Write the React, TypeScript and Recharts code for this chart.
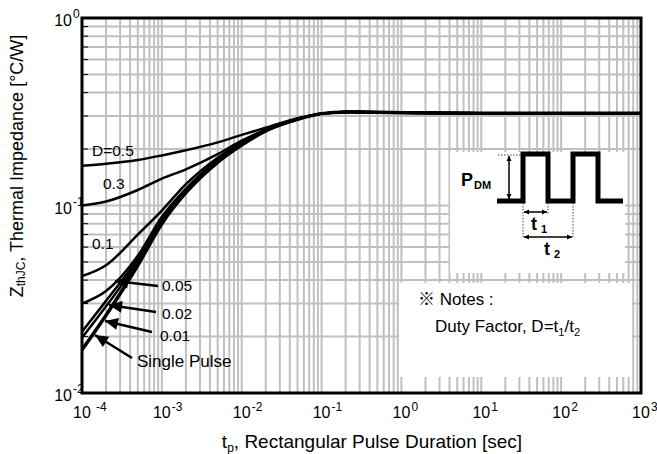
import React from "react";
import { LineChart, Line, XAxis, YAxis, CartesianGrid } from "recharts";

const FONT = "'Liberation Sans', Arial, Helvetica, sans-serif";

// pulse width t_p [s]
const pulseTimes = [1e-4, 2e-4, 5e-4, 1e-3, 2e-3, 5e-3, 1e-2, 2e-2, 5e-2, 1e-1, 2e-1, 5e-1, 1, 10, 100, 1000];

// Z_thJC [°C/W] per duty factor
const zD05 = [0.163, 0.167, 0.175, 0.185, 0.197, 0.217, 0.238, 0.26, 0.292, 0.309, 0.315, 0.314, 0.312, 0.31, 0.31, 0.31];
const zD03 = [0.1, 0.105, 0.121, 0.139, 0.156, 0.188, 0.222, 0.254, 0.29, 0.309, 0.315, 0.314, 0.312, 0.31, 0.31, 0.31];
const zD01 = [0.042, 0.048, 0.07, 0.094, 0.13, 0.18, 0.218, 0.252, 0.289, 0.309, 0.315, 0.314, 0.312, 0.31, 0.31, 0.31];
const zD005 = [0.03, 0.035, 0.054, 0.087, 0.123, 0.175, 0.214, 0.251, 0.288, 0.309, 0.315, 0.314, 0.312, 0.31, 0.31, 0.31];
const zD002 = [0.0212, 0.031, 0.052, 0.084, 0.12, 0.172, 0.212, 0.25, 0.288, 0.309, 0.315, 0.314, 0.312, 0.31, 0.31, 0.31];
const zD001 = [0.0197, 0.029, 0.05, 0.082, 0.118, 0.171, 0.211, 0.25, 0.288, 0.309, 0.315, 0.314, 0.312, 0.31, 0.31, 0.31];
const zSingle = [0.017, 0.026, 0.048, 0.08, 0.117, 0.17, 0.21, 0.25, 0.288, 0.309, 0.315, 0.314, 0.312, 0.31, 0.31, 0.31];

// axis decades + log grid multipliers
const xDecades = [1e-4, 1e-3, 1e-2, 1e-1, 1, 10, 100, 1000];
const xExponents = ["-4", "-3", "-2", "-1", "0", "1", "2", "3"];
const yDecades = [0.01, 0.1, 1];
const yExponents = ["-2", "-1", "0"];
const gridSteps = [1, 2, 3, 4, 5, 6, 7, 8, 9];

const logTicks = (decades: number[]) => {
  const out: number[] = [];
  decades.forEach((d, i) => {
    if (i === decades.length - 1) out.push(d);
    else gridSteps.forEach((m) => out.push(m * d));
  });
  return out;
};
const xTicks = logTicks(xDecades);
const yTicks = logTicks(yDecades);

const data = pulseTimes.map((t, i) => ({
  t,
  d05: zD05[i],
  d03: zD03[i],
  d01: zD01[i],
  d005: zD005[i],
  d002: zD002[i],
  d001: zD001[i],
  single: zSingle[i],
}));

const decadeIndex = (v: number, decades: number[]) =>
  decades.findIndex((d) => Math.abs(v / d - 1) < 1e-6);

function XTick(props: any) {
  const { x, y, payload } = props;
  const i = decadeIndex(payload.value, xDecades);
  if (i < 0) return null;
  return (
    <g fontFamily={FONT} fill="#000">
      <text x={x} y={y + 25} fontSize={16} textAnchor="middle">10</text>
      <text x={x + 9 + (i === 0 ? 5 : 1)} y={y + 18} fontSize={12}>{xExponents[i]}</text>
    </g>
  );
}

function YTick(props: any) {
  const { y, payload } = props;
  const i = decadeIndex(payload.value, yDecades);
  if (i < 0) return null;
  return (
    <g fontFamily={FONT} fill="#000">
      <text x={72} y={y + 8} fontSize={16} textAnchor="end">10</text>
      <text x={73} y={y} fontSize={12}>{yExponents[i]}</text>
    </g>
  );
}

function head(tx: number, ty: number, fx: number, fy: number, len: number, half: number) {
  const dx = tx - fx;
  const dy = ty - fy;
  const d = Math.hypot(dx, dy);
  const ux = dx / d;
  const uy = dy / d;
  const bx = tx - ux * len;
  const by = ty - uy * len;
  return `${tx},${ty} ${bx - uy * half},${by + ux * half} ${bx + uy * half},${by - ux * half}`;
}

function Callout({ tip, tail }: { tip: number[]; tail: number[] }) {
  return (
    <g>
      <line x1={tail[0]} y1={tail[1]} x2={tip[0]} y2={tip[1]} stroke="#000" strokeWidth={2.5} />
      <polygon points={head(tip[0], tip[1], tail[0], tail[1], 13, 6)} fill="#000" />
    </g>
  );
}

function DimArrow({ x1, y1, x2, y2 }: { x1: number; y1: number; x2: number; y2: number }) {
  return (
    <g>
      <line x1={x1} y1={y1} x2={x2} y2={y2} stroke="#000" strokeWidth={1.5} />
      <polygon points={head(x1, y1, x2, y2, 5, 2.5)} fill="#000" />
      <polygon points={head(x2, y2, x1, y1, 5, 2.5)} fill="#000" />
    </g>
  );
}

// annotation layer: frame, inset boxes, curve labels
function Annotations() {
  const dot = { stroke: "#444", strokeWidth: 1, strokeDasharray: "1.5 1.5" };
  return (
    <svg width={657} height={454} style={{ position: "absolute", left: 0, top: 0, pointerEvents: "none" }} fontFamily={FONT}>
      <rect x={450} y={152} width={175} height={121} fill="#fff" />
      <rect x={399} y={283} width={233} height={94} fill="#fff" />

      {/* pulse train */}
      <polyline
        points="497,201 523,201 523,154 548,154 548,201 573,201 573,154 598,154 598,201 623,201"
        fill="none"
        stroke="#000"
        strokeWidth={5}
      />
      <line x1={498} y1={155} x2={521} y2={155} {...dot} />
      <DimArrow x1={509} y1={156} x2={509} y2={199} />
      <text x={461} y={186} fontSize={18} fontWeight="bold">P</text>
      <text x={474} y={189} fontSize={11} fontWeight="bold">DM</text>
      <line x1={523} y1={203} x2={523} y2={238} {...dot} />
      <line x1={548} y1={203} x2={548} y2={214} {...dot} />
      <line x1={573} y1={203} x2={573} y2={238} {...dot} />
      <DimArrow x1={524} y1={212} x2={547} y2={212} />
      <DimArrow x1={524} y1={237} x2={572} y2={237} />
      <text x={531} y={230} fontSize={18} fontWeight="bold">t</text>
      <text x={541} y={233} fontSize={11} fontWeight="bold">1</text>
      <text x={544} y={255} fontSize={18} fontWeight="bold">t</text>
      <text x={554} y={258} fontSize={11} fontWeight="bold">2</text>

      {/* notes */}
      <text x={418} y={305} fontSize={17}>
        <tspan fontFamily="'Noto Sans CJK JP', sans-serif">※</tspan> Notes :
      </text>
      <text x={435} y={332} fontSize={17}>
        Duty Factor, D=t<tspan fontSize={11} dy={4}>1</tspan>
        <tspan dy={-4}>/t</tspan>
        <tspan fontSize={11} dy={4}>2</tspan>
      </text>

      {/* curve labels */}
      <text x={92} y={156} fontSize={15.5}>D=0.5</text>
      <text x={103} y={189} fontSize={15.5}>0.3</text>
      <text x={92} y={249} fontSize={15.5}>0.1</text>
      <text x={162} y={291} fontSize={15.5}>0.05</text>
      <text x={162} y={319} fontSize={15.5}>0.02</text>
      <text x={160} y={341} fontSize={15.5}>0.01</text>
      <text x={137} y={367} fontSize={17}>Single Pulse</text>
      <Callout tip={[115, 281]} tail={[158, 286]} />
      <Callout tip={[109, 305]} tail={[156, 312]} />
      <Callout tip={[105, 321]} tail={[152, 332]} />
      <Callout tip={[95, 335]} tail={[132, 358]} />

      {/* frame */}
      <rect x={82} y={18} width={559} height={375} fill="none" stroke="#000" strokeWidth={3} />

      {/* axis titles */}
      <text x={372} y={448} fontSize={19} textAnchor="middle">
        t<tspan fontSize={12} dy={4}>p</tspan>
        <tspan dy={-4}>, Rectangular Pulse Duration [sec]</tspan>
      </text>
      <text x={17} y={166} fontSize={18} textAnchor="middle" transform="rotate(-90 17 166)" dominantBaseline="central">
        Z<tspan fontSize={12} dy={4}>thJC</tspan>
        <tspan dy={-4}>, Thermal Impedance [°C/W]</tspan>
      </text>
    </svg>
  );
}

const series = [
  { key: "d05", width: 2.5 },
  { key: "d03", width: 2.5 },
  { key: "d01", width: 2.5 },
  { key: "d005", width: 2.5 },
  { key: "d002", width: 2.5 },
  { key: "d001", width: 2.5 },
  { key: "single", width: 3.5 },
];

export default function App() {
  return (
    <div style={{ position: "absolute", left: 0, top: 0, width: 657, height: 454, background: "#fff" }}>
      <LineChart width={657} height={454} data={data} margin={{ top: 18, right: 16, bottom: 0, left: 0 }}>
        <CartesianGrid stroke="#c0c0c0" strokeWidth={2} />
        <XAxis
          dataKey="t"
          type="number"
          scale="log"
          domain={[1e-4, 1000]}
          ticks={xTicks}
          interval={0}
          allowDataOverflow
          axisLine={false}
          tickLine={false}
          tickSize={0}
          tickMargin={0}
          height={61}
          tick={<XTick />}
        />
        <YAxis
          type="number"
          scale="log"
          domain={[0.01, 1]}
          ticks={yTicks}
          interval={0}
          allowDataOverflow
          axisLine={false}
          tickLine={{ stroke: "#000", strokeWidth: 1 }}
          tickSize={-6}
          tickMargin={0}
          width={82}
          tick={<YTick />}
        />
        {series.map((s) => (
          <Line
            key={s.key}
            dataKey={s.key}
            type="monotone"
            stroke="#000"
            strokeWidth={s.width}
            dot={false}
            isAnimationActive={false}
          />
        ))}
      </LineChart>
      <Annotations />
    </div>
  );
}
